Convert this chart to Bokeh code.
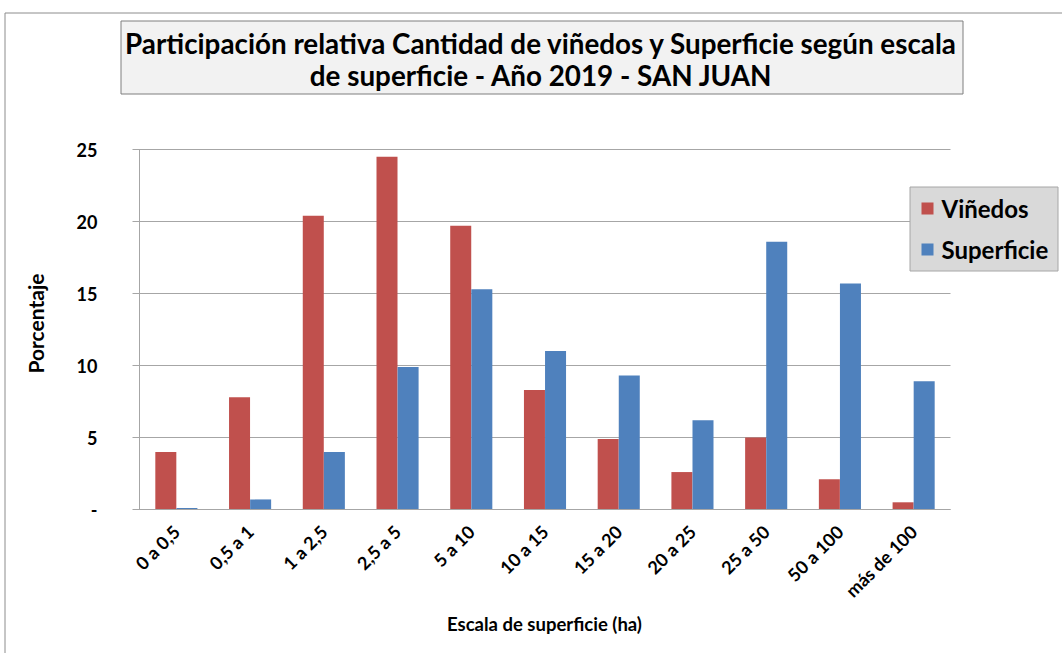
import math
from bokeh.plotting import figure
from bokeh.models import ColumnDataSource, Range1d
from bokeh.core.properties import value
from bokeh.embed import file_html
from bokeh.resources import INLINE

# ---------------- data ----------------
categories = ["0 a 0,5", "0,5 a 1", "1 a 2,5", "2,5 a 5", "5 a 10", "10 a 15",
              "15 a 20", "20 a 25", "25 a 50", "50 a 100", "más de 100"]
vinedos = [4.0, 7.8, 20.4, 24.5, 19.7, 8.3, 4.9, 2.6, 5.0, 2.1, 0.5]
superficie = [0.1, 0.7, 4.0, 9.9, 15.3, 11.0, 9.3, 6.2, 18.6, 15.7, 8.9]
series_names = ["Viñedos", "Superficie"]
y_ticks = [0, 5, 10, 15, 20, 25]
y_tick_labels = ["-", "5", "10", "15", "20", "25"]
title_lines = ["Participación relativa Cantidad de viñedos y Superficie según escala",
               "de superficie - Año 2019 - SAN JUAN"]
x_title = "Escala de superficie (ha)"
y_title = "Porcentaje"

# ---------------- layout (pixels) ----------------
W, H = 1062, 653
PX_L, PX_R, PX_B, PX_T = 139, 950, 509, 149          # plot area
N = len(categories)
Y_MAX = y_ticks[-1]
SX = (PX_R - PX_L) / N
SY = (PX_B - PX_T) / Y_MAX


def X(px):
    return (px - PX_L) / SX


def Y(py):
    return (PX_B - py) / SY


FONT = value("Lato")
BOLD = value("bold")
RED = "#C0504D"
BLUE = "#4F81BD"
GRID = "#a6a6a6"
colors = [RED, BLUE]

p = figure(width=W, height=H, output_backend="svg", toolbar_location=None,
           x_range=Range1d(X(0), X(W)), y_range=Range1d(Y(H), Y(0)),
           x_axis_location=None, y_axis_location=None,
           min_border=0, min_border_left=0, min_border_right=0,
           min_border_top=0, min_border_bottom=0)
p.outline_line_color = None
p.grid.visible = False
p.background_fill_color = "white"
p.border_fill_color = "white"

# outer chart border (top and left visible)
p.line(x=[X(4.5), X(4.5), X(W + 5)], y=[Y(H + 5), Y(12.5), Y(12.5)],
       line_color="#8c8c8c", line_width=1)

# title box + text
p.quad(left=[X(120.5)], right=[X(962.5)], top=[Y(20.5)], bottom=[Y(93.5)],
       fill_color="#f2f2f2", line_color="#7f7f7f", line_width=1)
p.text(x=[X(541), X(541)], y=[Y(43), Y(75)], text=title_lines,
       text_font=FONT, text_font_style=BOLD, text_font_size=value("27.8px"),
       text_color="black", text_align="center", text_baseline="middle")

# horizontal grid lines (with outside tick marks on the left)
p.segment(x0=[X(132)] * len(y_ticks), x1=[N] * len(y_ticks), y0=y_ticks, y1=y_ticks,
          line_color=GRID, line_width=1)
# y axis line
p.segment(x0=[0], x1=[0], y0=[0], y1=[Y_MAX], line_color=GRID, line_width=1)

# bars
idx = list(range(N))
off, bw = 0.143, 0.285
src = ColumnDataSource(dict(
    xv=[i + 0.5 - off for i in idx], xs=[i + 0.5 + off for i in idx],
    v=vinedos, s=superficie))
p.vbar(x="xv", top="v", width=bw, source=src, fill_color=RED, line_color=None)
p.vbar(x="xs", top="s", width=bw, source=src, fill_color=BLUE, line_color=None)

# x axis line
p.segment(x0=[0], x1=[N], y0=[0], y1=[0], line_color=GRID, line_width=1)

# y tick labels
p.text(x=[X(97)] * len(y_ticks), y=y_ticks, text=y_tick_labels,
       text_font=FONT, text_font_style=BOLD, text_font_size=value("18px"),
       text_color="black", text_align="right", text_baseline="middle")

# x tick labels (rotated)
p.text(x=[i + 0.5 for i in idx], y=[Y(528)] * N, text=categories,
       angle=math.pi / 4, text_font=FONT, text_font_style=BOLD,
       text_font_size=value("18px"), text_color="black",
       text_align="right", text_baseline="middle")

# axis titles
p.text(x=[X(544)], y=[Y(623)], text=[x_title], text_font=FONT, text_font_style=BOLD,
       text_font_size=value("18.5px"), text_color="black",
       text_align="center", text_baseline="middle")
p.text(x=[X(35)], y=[Y(323)], text=[y_title], angle=math.pi / 2, text_font=FONT,
       text_font_style=BOLD, text_font_size=value("21px"), text_color="black",
       text_align="center", text_baseline="middle")

# legend
p.quad(left=[X(909.5)], right=[X(1057.5)], top=[Y(186.5)], bottom=[Y(270.5)],
       fill_color="#d9d9d9", line_color="#a6a6a6", line_width=1)
leg_y = [Y(208), Y(249)]
p.scatter(x=[X(927)] * 2, y=leg_y, marker="square", size=12,
          fill_color=colors, line_color=None)
p.text(x=[X(941)] * 2, y=leg_y, text=series_names, text_font=FONT,
       text_font_style=BOLD, text_font_size=value("24px"), text_color="black",
       text_align="left", text_baseline="middle")

open("out.html", "w").write(file_html(p, INLINE))
